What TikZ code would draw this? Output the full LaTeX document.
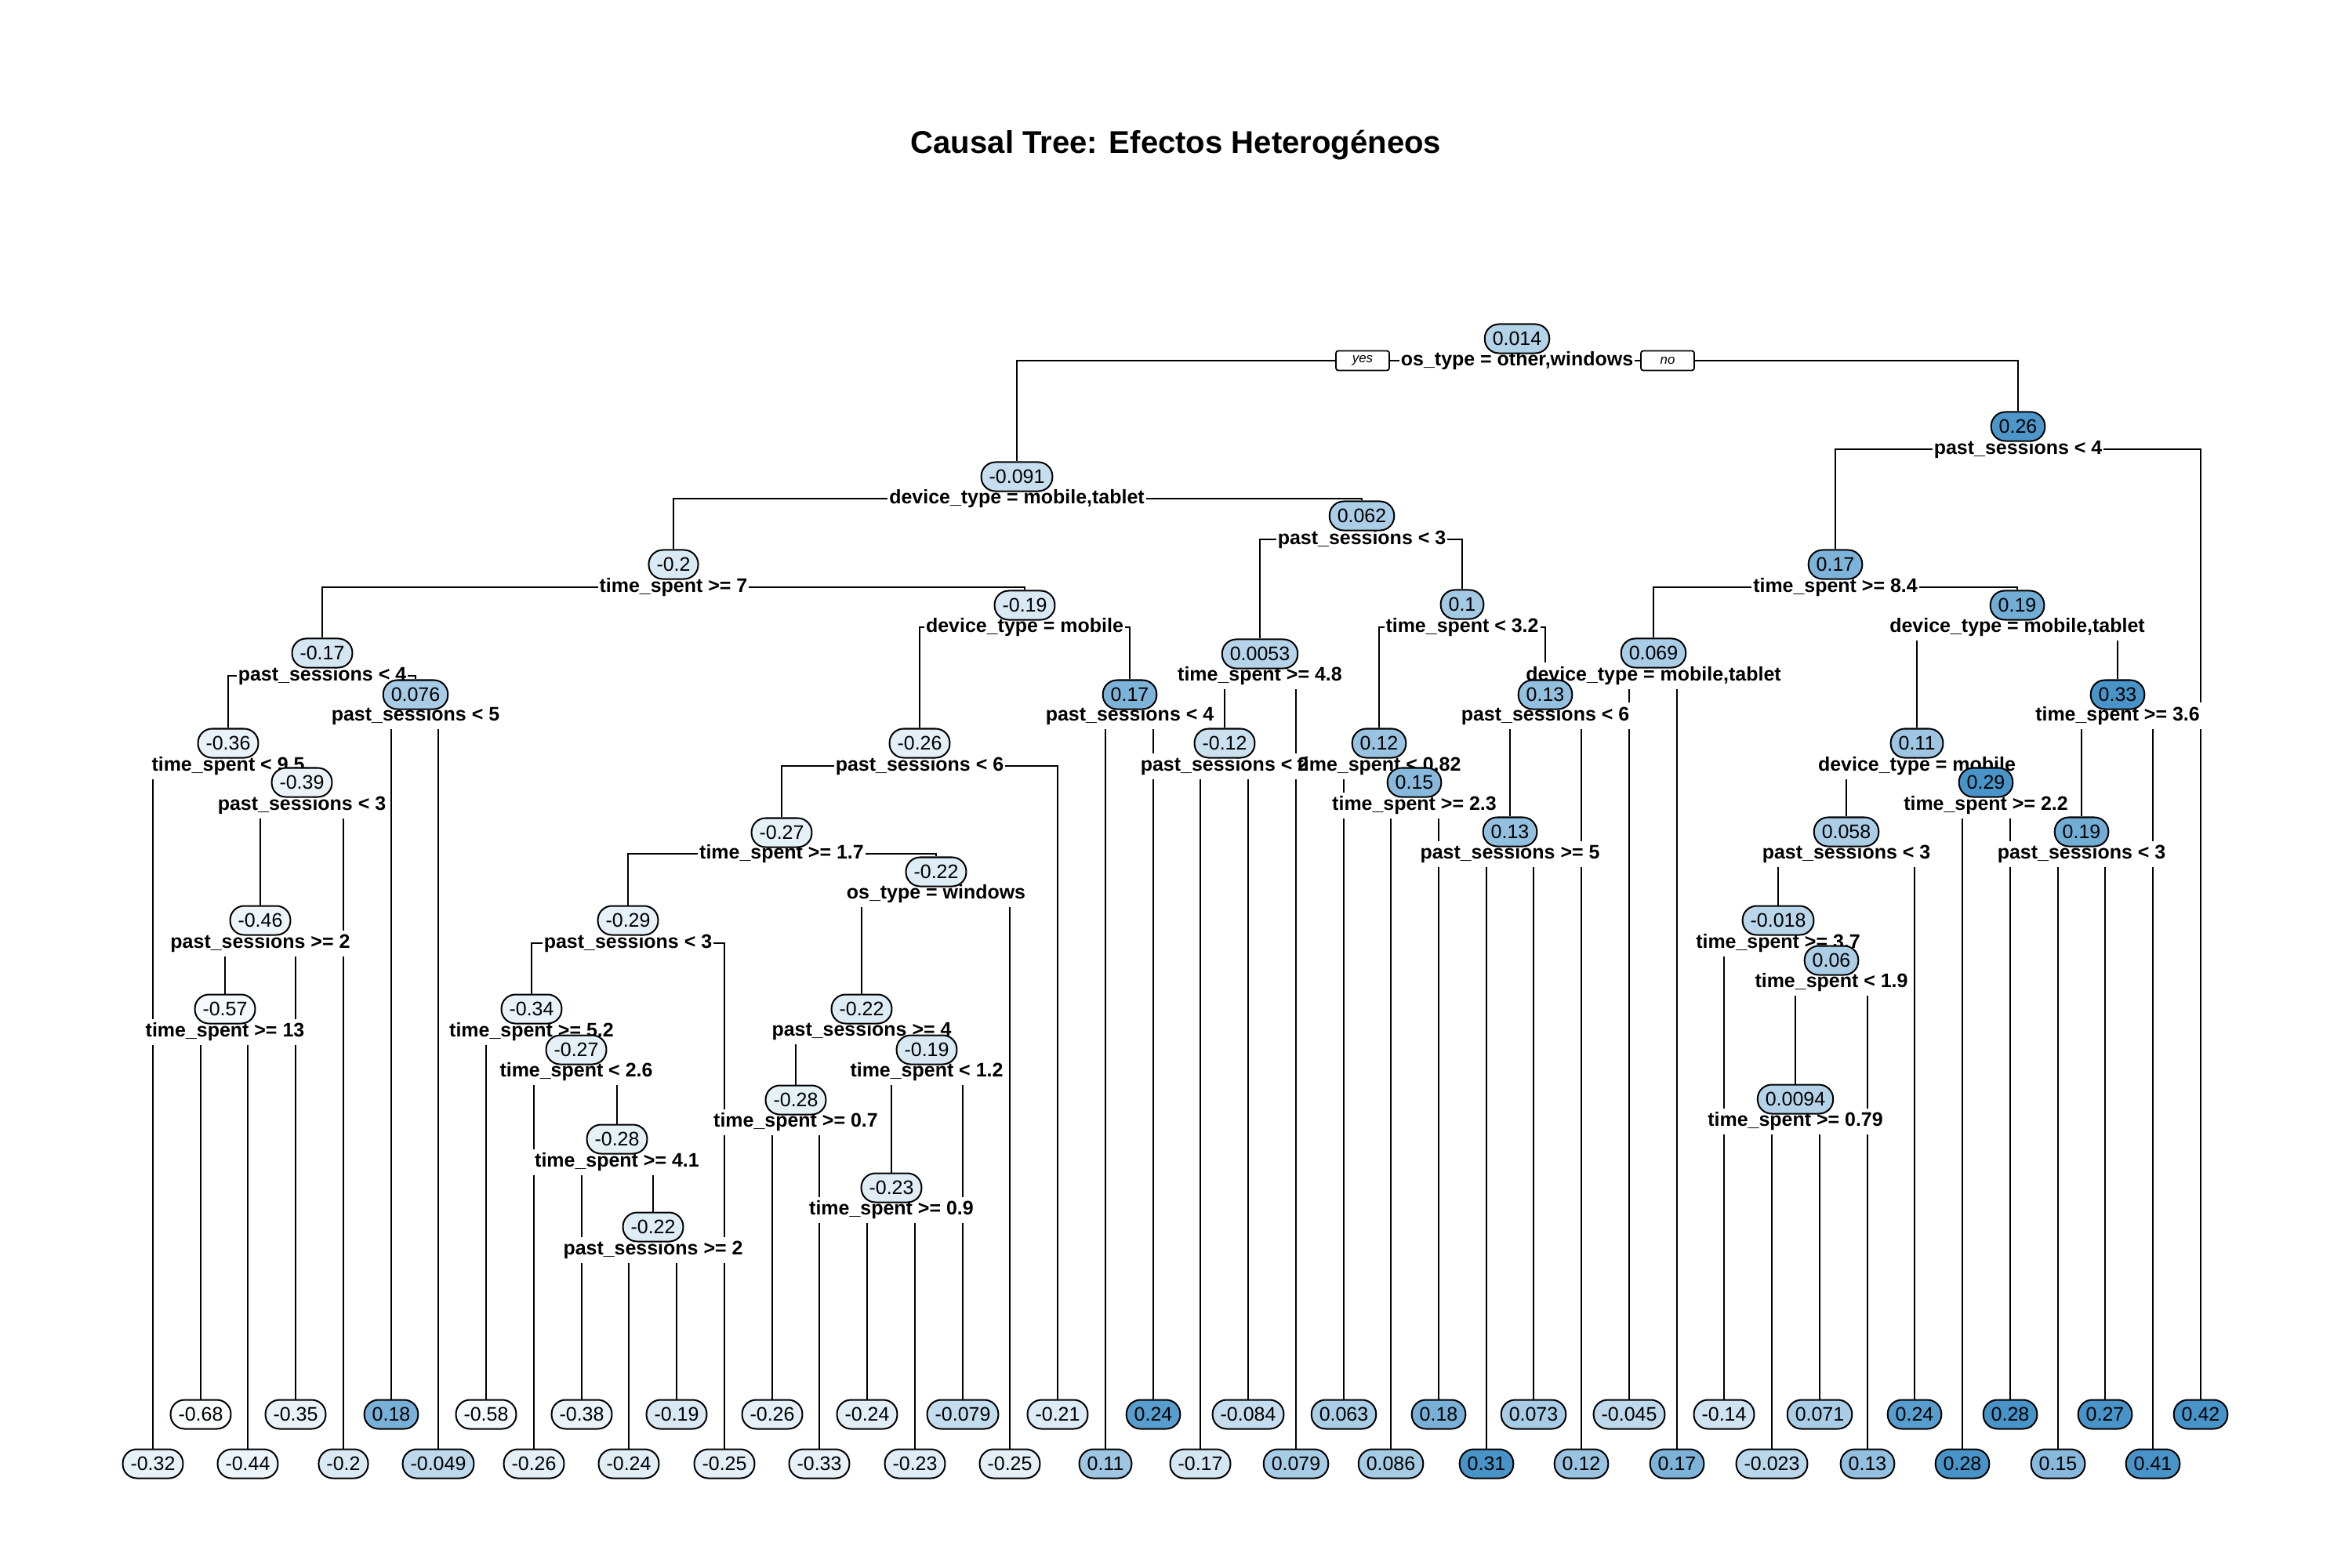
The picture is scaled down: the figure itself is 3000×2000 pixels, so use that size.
\documentclass[tikz,border=0pt]{standalone}
\usepackage{fontspec}
\setmainfont{Liberation Sans}
\pgfdeclarelayer{edges}
\pgfdeclarelayer{labbg}
\pgfdeclarelayer{labtxt}
\pgfsetlayers{edges,labbg,labtxt,main}
\definecolor{tb}{RGB}{72,148,201}
\newcommand\setcol[1]{%
  \pgfmathsetmacro\pp{(#1<(0-0.25)) ? (15+(#1+0.25)*28) : ((#1<0.1) ? (15+(#1+0.25)*100) : (50+(#1-0.1)*300))}%
  \pgfmathsetmacro\pp{min(100,max(3,\pp))}}
\newcommand\tleaf[3]{%
  \pgfmathsetmacro\lx{round(195+60.74*#2)}%
  \pgfmathsetmacro\ly{(mod(#2,2)==0) ? 1867 : 1804}%
  \setcol{#3}%
  \node[vb, fill=tb!\pp!white] (#1) at (\lx,\ly) {#3};}
\newcommand\tinode[6]{%
  \setcol{#5}%
  \node[vb, fill=tb!\pp!white] (#1) at (#2,#3) {#5};
  \begin{pgfonlayer}{labbg}\node[lbg] (#1l) at (#2,#4) {\phantom{#6}};\end{pgfonlayer}
  \begin{pgfonlayer}{labtxt}\node[ltx] at (#2,#4) {#6};\end{pgfonlayer}}
\newcommand\tedge[2]{\begin{pgfonlayer}{edges}\draw[edgeline] (#1l.center) -| (#2.north);\end{pgfonlayer}}
\begin{document}
\begin{tikzpicture}[x=0.01cm,y=-0.01cm,
 vb/.style={draw=black, line width=0.57pt, rounded corners=0.18cm, minimum height=0.37cm, inner xsep=0.1cm, inner ysep=0pt, font=\fontsize{7.1}{8}\selectfont},
 lbg/.style={fill=white, inner xsep=0.02cm, inner ysep=0pt, minimum height=0.33cm, font=\bfseries\fontsize{7.1}{8}\selectfont},
 ltx/.style={inner xsep=0.02cm, inner ysep=0pt, minimum height=0.33cm, font=\bfseries\fontsize{7.1}{8}\selectfont},
 edgeline/.style={line width=0.57pt},
 yn/.style={draw, fill=white, line width=0.5pt, rounded corners=0.03cm, minimum width=0.68cm, minimum height=0.25cm, inner sep=0pt, font=\itshape\fontsize{4.8}{5}\selectfont}]
\useasboundingbox (0,0) rectangle (3000,2000);
\node[font=\bfseries\fontsize{11.4}{13}\selectfont] (title) at (1500,185) {Causal Tree: Efectos Heterogéneos};

% leaves
\tleaf{L0}{0}{-0.32}
\tleaf{L1}{1}{-0.68}
\tleaf{L2}{2}{-0.44}
\tleaf{L3}{3}{-0.35}
\tleaf{L4}{4}{-0.2}
\tleaf{L5}{5}{0.18}
\tleaf{L6}{6}{-0.049}
\tleaf{L7}{7}{-0.58}
\tleaf{L8}{8}{-0.26}
\tleaf{L9}{9}{-0.38}
\tleaf{L10}{10}{-0.24}
\tleaf{L11}{11}{-0.19}
\tleaf{L12}{12}{-0.25}
\tleaf{L13}{13}{-0.26}
\tleaf{L14}{14}{-0.33}
\tleaf{L15}{15}{-0.24}
\tleaf{L16}{16}{-0.23}
\tleaf{L17}{17}{-0.079}
\tleaf{L18}{18}{-0.25}
\tleaf{L19}{19}{-0.21}
\tleaf{L20}{20}{0.11}
\tleaf{L21}{21}{0.24}
\tleaf{L22}{22}{-0.17}
\tleaf{L23}{23}{-0.084}
\tleaf{L24}{24}{0.079}
\tleaf{L25}{25}{0.063}
\tleaf{L26}{26}{0.086}
\tleaf{L27}{27}{0.18}
\tleaf{L28}{28}{0.31}
\tleaf{L29}{29}{0.073}
\tleaf{L30}{30}{0.12}
\tleaf{L31}{31}{-0.045}
\tleaf{L32}{32}{0.17}
\tleaf{L33}{33}{-0.14}
\tleaf{L34}{34}{-0.023}
\tleaf{L35}{35}{0.071}
\tleaf{L36}{36}{0.13}
\tleaf{L37}{37}{0.24}
\tleaf{L38}{38}{0.28}
\tleaf{L39}{39}{0.28}
\tleaf{L40}{40}{0.15}
\tleaf{L41}{41}{0.27}
\tleaf{L42}{42}{0.41}
\tleaf{L43}{43}{0.42}

% internal nodes: name, x, ybox, ylabel, value, split
\tinode{r}{1935}{432}{460}{0.014}{os\_type = other,windows}
\tinode{a}{1297}{608}{636}{-0.091}{device\_type = mobile,tablet}
\tinode{a1}{859}{720}{749}{-0.2}{time\_spent >= 7}
\tinode{c1}{411}{833}{862}{-0.17}{past\_sessions < 4}
\tinode{d1}{291}{948}{977}{-0.36}{time\_spent < 9.5}
\tinode{e1}{385}{998}{1027}{-0.39}{past\_sessions < 3}
\tinode{f1}{332}{1174}{1203}{-0.46}{past\_sessions >= 2}
\tinode{g1}{287}{1287}{1316}{-0.57}{time\_spent >= 13}
\tinode{d2}{530}{886}{913}{0.076}{past\_sessions < 5}
\tinode{c2}{1307}{772}{800}{-0.19}{device\_type = mobile}
\tinode{h1}{1173}{948}{977}{-0.26}{past\_sessions < 6}
\tinode{i1}{997}{1062}{1089}{-0.27}{time\_spent >= 1.7}
\tinode{j1}{801}{1174}{1203}{-0.29}{past\_sessions < 3}
\tinode{k1}{678}{1287}{1316}{-0.34}{time\_spent >= 5.2}
\tinode{k2}{735}{1339}{1367}{-0.27}{time\_spent < 2.6}
\tinode{k3}{787}{1453}{1482}{-0.28}{time\_spent >= 4.1}
\tinode{k4}{833}{1565}{1594}{-0.22}{past\_sessions >= 2}
\tinode{j2}{1194}{1112}{1140}{-0.22}{os\_type = windows}
\tinode{m1}{1099}{1287}{1315}{-0.22}{past\_sessions >= 4}
\tinode{m2}{1015}{1403}{1431}{-0.28}{time\_spent >= 0.7}
\tinode{m3}{1182}{1339}{1367}{-0.19}{time\_spent < 1.2}
\tinode{m4}{1137}{1515}{1543}{-0.23}{time\_spent >= 0.9}
\tinode{h2}{1441}{886}{913}{0.17}{past\_sessions < 4}
\tinode{a2}{1737}{658}{688}{0.062}{past\_sessions < 3}
\tinode{n1}{1607}{834}{862}{0.0053}{time\_spent >= 4.8}
\tinode{n3}{1562}{948}{977}{-0.12}{past\_sessions < 2}
\tinode{n2}{1865}{771}{800}{0.1}{time\_spent < 3.2}
\tinode{o1}{1759}{948}{977}{0.12}{time\_spent < 0.82}
\tinode{o3}{1804}{998}{1027}{0.15}{time\_spent >= 2.3}
\tinode{o2}{1971}{886}{913}{0.13}{past\_sessions < 6}
\tinode{o4}{1926}{1061}{1089}{0.13}{past\_sessions >= 5}
\tinode{b}{2574}{544}{573}{0.26}{past\_sessions < 4}
\tinode{p1}{2341}{720}{749}{0.17}{time\_spent >= 8.4}
\tinode{q1}{2109}{833}{862}{0.069}{device\_type = mobile,tablet}
\tinode{q2}{2573}{772}{800}{0.19}{device\_type = mobile,tablet}
\tinode{s1}{2445}{948}{977}{0.11}{device\_type = mobile}
\tinode{t1}{2355}{1061}{1089}{0.058}{past\_sessions < 3}
\tinode{u1}{2268}{1174}{1203}{-0.018}{time\_spent >= 3.7}
\tinode{u2}{2336}{1225}{1253}{0.06}{time\_spent < 1.9}
\tinode{u3}{2290}{1402}{1430}{0.0094}{time\_spent >= 0.79}
\tinode{t2}{2533}{998}{1027}{0.29}{time\_spent >= 2.2}
\tinode{s2}{2701}{886}{913}{0.33}{time\_spent >= 3.6}
\tinode{s3}{2655}{1061}{1089}{0.19}{past\_sessions < 3}

\node[yn] (yes) at (1738,460) {yes};
\node[yn] (no) at (2127,460) {no};

% connectors
\tedge{r}{a}\tedge{r}{b}
\tedge{a}{a1}\tedge{a}{a2}
\tedge{a1}{c1}\tedge{a1}{c2}
\tedge{c1}{d1}\tedge{c1}{d2}
\tedge{d1}{L0}\tedge{d1}{e1}
\tedge{e1}{f1}\tedge{e1}{L4}
\tedge{f1}{g1}\tedge{f1}{L3}
\tedge{g1}{L1}\tedge{g1}{L2}
\tedge{d2}{L5}\tedge{d2}{L6}
\tedge{c2}{h1}\tedge{c2}{h2}
\tedge{h1}{i1}\tedge{h1}{L19}
\tedge{i1}{j1}\tedge{i1}{j2}
\tedge{j1}{k1}\tedge{j1}{L12}
\tedge{k1}{L7}\tedge{k1}{k2}
\tedge{k2}{L8}\tedge{k2}{k3}
\tedge{k3}{L9}\tedge{k3}{k4}
\tedge{k4}{L10}\tedge{k4}{L11}
\tedge{j2}{m1}\tedge{j2}{L18}
\tedge{m1}{m2}\tedge{m1}{m3}
\tedge{m2}{L13}\tedge{m2}{L14}
\tedge{m3}{m4}\tedge{m3}{L17}
\tedge{m4}{L15}\tedge{m4}{L16}
\tedge{h2}{L20}\tedge{h2}{L21}
\tedge{a2}{n1}\tedge{a2}{n2}
\tedge{n1}{n3}\tedge{n1}{L24}
\tedge{n3}{L22}\tedge{n3}{L23}
\tedge{n2}{o1}\tedge{n2}{o2}
\tedge{o1}{L25}\tedge{o1}{o3}
\tedge{o3}{L26}\tedge{o3}{L27}
\tedge{o2}{o4}\tedge{o2}{L30}
\tedge{o4}{L28}\tedge{o4}{L29}
\tedge{b}{p1}\tedge{b}{L43}
\tedge{p1}{q1}\tedge{p1}{q2}
\tedge{q1}{L31}\tedge{q1}{L32}
\tedge{q2}{s1}\tedge{q2}{s2}
\tedge{s1}{t1}\tedge{s1}{t2}
\tedge{t1}{u1}\tedge{t1}{L37}
\tedge{u1}{L33}\tedge{u1}{u2}
\tedge{u2}{u3}\tedge{u2}{L36}
\tedge{u3}{L34}\tedge{u3}{L35}
\tedge{t2}{L38}\tedge{t2}{L39}
\tedge{s2}{s3}\tedge{s2}{L42}
\tedge{s3}{L40}\tedge{s3}{L41}
\end{tikzpicture}
\end{document}
